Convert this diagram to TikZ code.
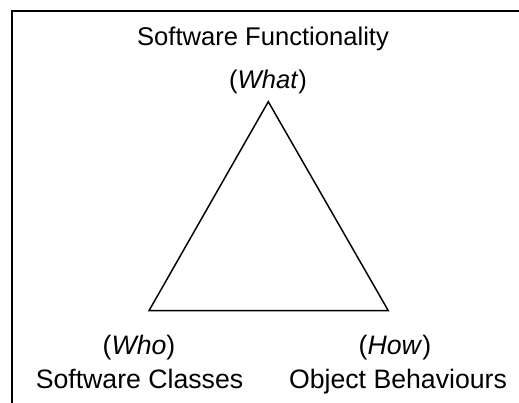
\documentclass[tikz,border=0pt]{standalone}
\usepackage{fontspec}
\setmainfont{Liberation Sans}
\usepackage{tikz}
\usetikzlibrary{positioning}

\tikzset{
    corner/.style={font=\fontsize{19.2}{23}\selectfont, anchor=base, inner sep=0pt},
    lower/.style={corner, font=\fontsize{20}{24}\selectfont},
    edge/.style={line width=1.1pt, line join=miter},
    frame/.style={line width=1.5pt}
}

\begin{document}
\begin{tikzpicture}[x=0.75pt,y=-0.75pt]
    \useasboundingbox (0,0) rectangle (519,403);
    % outer frame, only top and left side fall inside the page
    \draw [frame] (11.5,403) |- (519,11.5);

    \begin{scope}[edge]
        \coordinate (what) at (268.3,101.7);
        \coordinate (who)  at (149,310.7);
        \coordinate (how)  at (388.3,310.7);
        \draw (what) -- (who) -- (how) -- cycle;
    \end{scope}

    \node [corner] (functionality) at (263,45.7) {Software Functionality};
    \node [corner] (whatlabel)     at (268,89)   {(\textit{What})};
    \node [lower]  (wholabel)      at (139,354)  {(\textit{Who})};
    \node [lower]  (classes)       at (139.5,389) {Software Classes};
    \node [lower]  (howlabel)      at (395,354)  {(\textit{How})};
    \node [lower]  (behaviours)    at (398,389)  {Object Behaviours};
\end{tikzpicture}
\end{document}
